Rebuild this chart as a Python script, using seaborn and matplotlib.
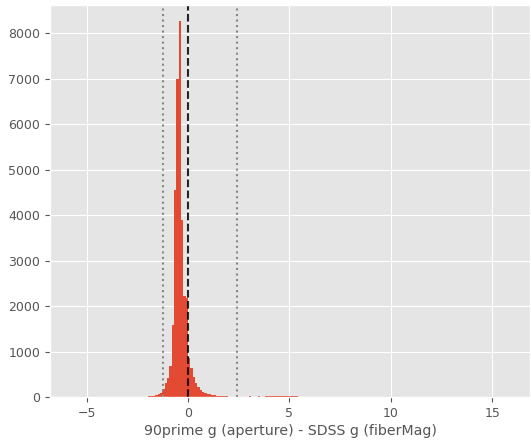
import numpy as np
import pandas as pd
import matplotlib
matplotlib.use("Agg")
import matplotlib.pyplot as plt
import seaborn as sns

# ---- data ----
bin_width = 0.115
first_edge = -2.07
counts = [
    8, 15, 20, 28, 40, 60, 95, 180, 300, 420,
    680, 1590, 4560, 6985, 8264, 3900, 2210, 2180, 860, 640,
    430, 300, 215, 160, 110, 95, 70, 60, 45, 40,
    30, 25, 20, 15, 12, 10, 8, 6, 5, 0,
    0, 0, 0, 0, 12, 0, 0, 0, 12, 0,
    0, 12, 12, 12, 12, 12, 12, 12, 12, 12,
    12, 12, 12, 12, 12,
]
median_line = 0.0
bound_lines = [-1.25, 2.43]
xlabel = "90prime g (aperture) - SDSS g (fiberMag)"
yticks = [0, 1000, 2000, 3000, 4000, 5000, 6000, 7000, 8000]
xticks = [-5, 0, 5, 10, 15]

edges = first_edge + bin_width * np.arange(len(counts) + 1)
centers = (edges[:-1] + edges[1:]) / 2
df = pd.DataFrame({"diff": centers, "n": counts})

plt.style.use("ggplot")
fig = plt.figure(figsize=(5.31, 4.44), dpi=100)
ax = fig.add_axes([50 / 531, 1 - 397 / 444, 480 / 531, 392 / 444])

sns.histplot(data=df, x="diff", weights="n", binwidth=bin_width,
             binrange=(float(edges[0]), float(edges[-1])), ax=ax,
             color="#E24A33", alpha=1.0, linewidth=0)

ax.axvline(median_line, color="k", linestyle="--", linewidth=1.5, alpha=0.85)
for b in bound_lines:
    ax.axvline(b, color="#888888", linestyle=":", linewidth=1.5)

ax.set_xlim(-6.8, 16.85)
ax.set_ylim(0, 8620)
ax.set_xticks(xticks)
ax.set_yticks(yticks)
ax.set_xlabel(xlabel, fontsize=10.2, color="#555555", labelpad=3)
ax.set_ylabel("")
ax.tick_params(labelsize=9)

fig.savefig("out.png", dpi=100)
